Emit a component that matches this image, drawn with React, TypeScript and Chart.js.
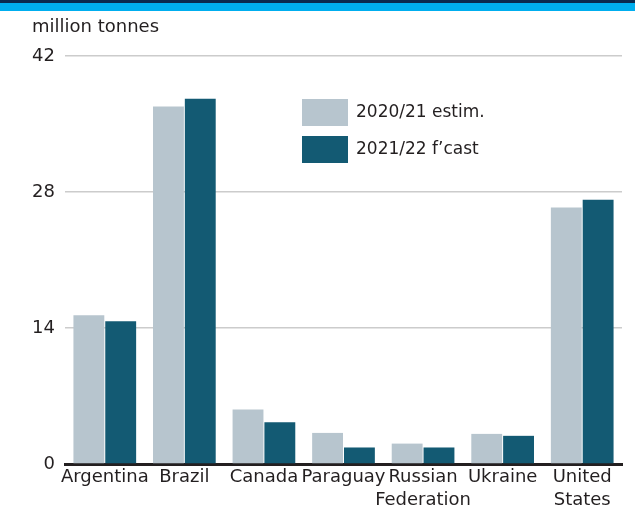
import React, { useEffect, useRef } from "react";
import { Chart, registerables } from "chart.js";

Chart.register(...registerables);

const categories: (string | string[])[] = [
  "Argentina",
  "Brazil",
  "Canada",
  "Paraguay",
  ["Russian", "Federation"],
  "Ukraine",
  ["United", "States"],
];
const series2020Label = "2020/21 estim.";
const series2021Label = "2021/22 f\u2019cast";
const series2020 = [15.3, 36.8, 5.6, 3.2, 2.1, 3.1, 26.4];
const series2021 = [14.7, 37.6, 4.3, 1.7, 1.7, 2.9, 27.2];
const yTicks = [0, 14, 28, 42];
const unitLabel = "million tonnes";

const LIGHT = "#b7c5ce";
const DARK = "#135a73";
const TEXT = "#231f20";
const FONT = "'DejaVu Sans', sans-serif";

export default function App() {
  const ref = useRef<HTMLCanvasElement | null>(null);

  useEffect(() => {
    document.body.style.margin = "0";
    const canvas = ref.current;
    if (!canvas) return;

    const decor = {
      id: "decor",
      afterDraw(chart: any) {
        const ctx = chart.ctx;
        ctx.save();
        // top bands
        ctx.fillStyle = "#0b2a4f";
        ctx.fillRect(0, 0, 635, 3);
        ctx.fillStyle = "#00aeef";
        ctx.fillRect(0, 3, 635, 8);
        // unit label
        ctx.fillStyle = TEXT;
        ctx.font = `18px ${FONT}`;
        ctx.textBaseline = "middle";
        ctx.textAlign = "left";
        ctx.fillText(unitLabel, 32, 27);
        // legend
        const items = chart.data.datasets;
        items.forEach((ds: any, i: number) => {
          const y = 99 + i * 37;
          ctx.fillStyle = ds.backgroundColor;
          ctx.fillRect(302, y, 46, 27);
          ctx.fillStyle = TEXT;
          ctx.font = `17px ${FONT}`;
          ctx.fillText(ds.label, 356, y + 13.5);
        });
        ctx.restore();
      },
    };

    const chart = new Chart(canvas, {
      type: "bar",
      data: {
        labels: categories,
        datasets: [
          {
            label: series2020Label,
            data: series2020,
            backgroundColor: LIGHT,
            barPercentage: 0.97,
            categoryPercentage: 0.8,
          },
          {
            label: series2021Label,
            data: series2021,
            backgroundColor: DARK,
            barPercentage: 0.97,
            categoryPercentage: 0.8,
          },
        ],
      },
      options: {
        animation: false,
        responsive: false,
        maintainAspectRatio: false,
        layout: { padding: { left: 0, right: 13, top: 56, bottom: 0 } },
        plugins: {
          legend: { display: false },
          tooltip: { enabled: false },
          title: { display: false },
        },
        scales: {
          x: {
            grid: { display: false, drawTicks: false },
            border: { display: true, color: TEXT, width: 3 },
            ticks: {
              color: TEXT,
              font: { family: FONT, size: 18, lineHeight: 1.28 },
              padding: 2,
              maxRotation: 0,
              autoSkip: false,
            },
            afterFit(scale: any) {
              scale.height = 48;
            },
          },
          y: {
            min: 0,
            max: 42,
            grid: { color: "#cccccc", lineWidth: 1.5, drawTicks: false },
            border: { display: false },
            afterBuildTicks(scale: any) {
              scale.ticks = yTicks.map((v) => ({ value: v }));
            },
            ticks: {
              color: TEXT,
              font: { family: FONT, size: 18 },
              padding: 10,
            },
            afterFit(scale: any) {
              scale.width = 65;
            },
          },
        },
      },
      plugins: [decor],
    });

    return () => chart.destroy();
  }, []);

  return (
    <div style={{ position: "absolute", left: 0, top: 0, width: 635, height: 512, background: "#fff" }}>
      <canvas ref={ref} width={635} height={512} style={{ display: "block" }} />
    </div>
  );
}
